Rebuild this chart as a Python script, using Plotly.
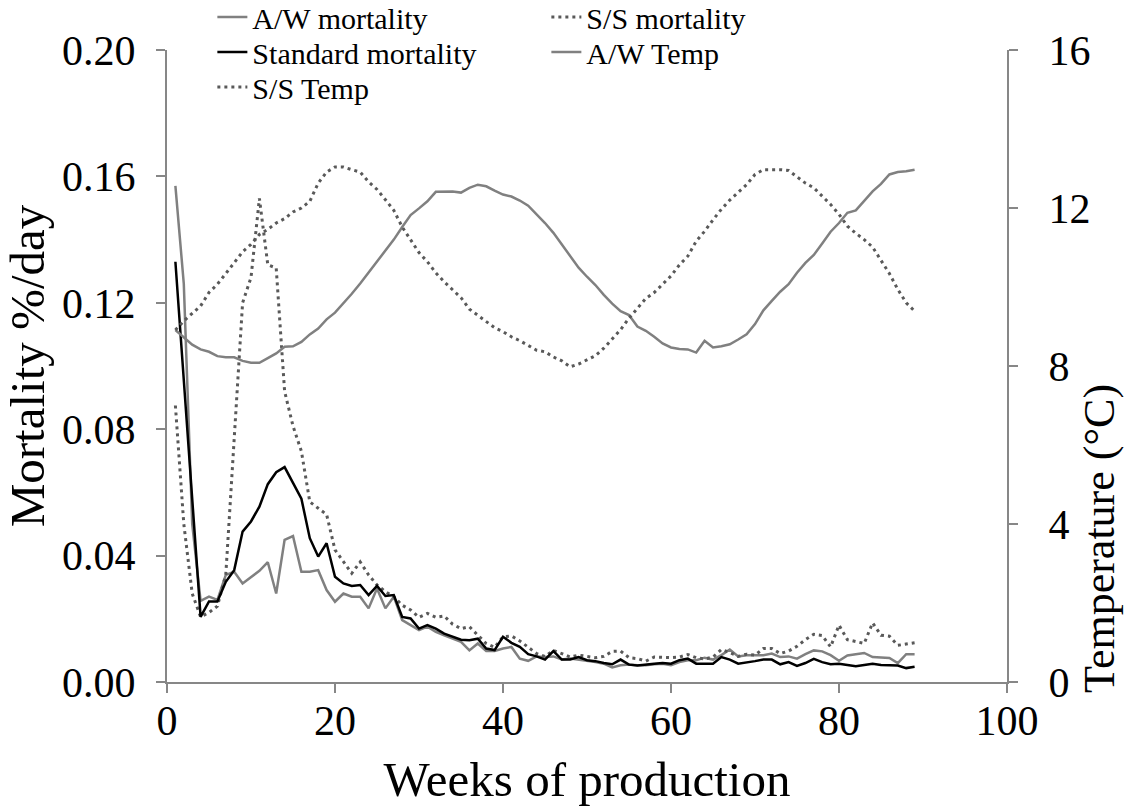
import plotly.graph_objects as go

# Weeks of production
weeks = list(range(1, 90))

# Mortality (%/day)
aw_mortality = [
    0.157, 0.126, 0.050, 0.0257, 0.027, 0.026, 0.0339, 0.0349, 0.0312, 0.0333,
    0.0352, 0.0379, 0.028, 0.045, 0.0462, 0.0349, 0.0349, 0.0354, 0.0291, 0.0254,
    0.028, 0.027, 0.027, 0.0233, 0.0296, 0.0233, 0.027, 0.0196, 0.018, 0.0164,
    0.0175, 0.0159, 0.0148, 0.0138, 0.0127, 0.010, 0.0122, 0.0098, 0.0098, 0.0106,
    0.0111, 0.0074, 0.0067, 0.0081, 0.0079, 0.0081, 0.0071, 0.0074, 0.0071, 0.0067,
    0.0063, 0.0058, 0.0046, 0.0053, 0.0055, 0.0053, 0.0053, 0.0056, 0.0058, 0.0053,
    0.0063, 0.0069, 0.0069, 0.0077, 0.0071, 0.0085, 0.0103, 0.0081, 0.0085, 0.0085,
    0.0085, 0.009, 0.0079, 0.0081, 0.0074, 0.0088, 0.010, 0.0097, 0.0085, 0.0067,
    0.0084, 0.0088, 0.0092, 0.0079, 0.0077, 0.0076, 0.006, 0.0088, 0.0088,
]

ss_mortality = [
    0.0875, 0.050, 0.028, 0.0206, 0.022, 0.024, 0.034, 0.076, 0.120, 0.128,
    0.153, 0.132, 0.131, 0.092, 0.081, 0.073, 0.057, 0.055, 0.053, 0.0418,
    0.038, 0.0344, 0.038, 0.0339, 0.0307, 0.0286, 0.027, 0.0243, 0.0228, 0.0205,
    0.0217, 0.0205, 0.0209, 0.0183, 0.0169, 0.0175, 0.0148, 0.0122, 0.011, 0.0143,
    0.0146, 0.013, 0.011, 0.009, 0.0081, 0.010, 0.009, 0.0079, 0.0085, 0.0081,
    0.0077, 0.0081, 0.0097, 0.0098, 0.0077, 0.0074, 0.0066, 0.0079, 0.0077, 0.0077,
    0.0079, 0.0087, 0.0077, 0.0073, 0.0079, 0.0103, 0.0093, 0.0081, 0.0088, 0.0085,
    0.0106, 0.0106, 0.009, 0.0098, 0.0113, 0.0134, 0.0151, 0.0147, 0.0111, 0.018,
    0.0134, 0.0127, 0.0122, 0.0187, 0.0148, 0.0145, 0.0116, 0.012, 0.0124,
]

standard_mortality = [
    0.133, 0.096, 0.058, 0.0206, 0.0255, 0.0255, 0.0317, 0.0354, 0.0476, 0.0508,
    0.0555, 0.0626, 0.0664, 0.068, 0.063, 0.058, 0.0455, 0.0397, 0.0439, 0.0333,
    0.0312, 0.0304, 0.0307, 0.0275, 0.0304, 0.0272, 0.0275, 0.0206, 0.0201, 0.0169,
    0.018, 0.0169, 0.0153, 0.0143, 0.0134, 0.0132, 0.0137, 0.0106, 0.0101, 0.0143,
    0.0124, 0.0111, 0.0088, 0.0081, 0.0071, 0.0098, 0.0071, 0.0071, 0.0079, 0.0069,
    0.0066, 0.006, 0.0056, 0.0071, 0.0055, 0.0052, 0.0056, 0.0058, 0.006, 0.0058,
    0.0069, 0.0074, 0.0058, 0.0058, 0.0058, 0.0079, 0.0071, 0.0058, 0.0061, 0.0066,
    0.0071, 0.0071, 0.0056, 0.0063, 0.0051, 0.006, 0.0073, 0.0063, 0.0056, 0.0058,
    0.0054, 0.005, 0.0054, 0.0058, 0.0054, 0.0052, 0.0052, 0.0044, 0.0048,
]

# Sea temperature (°C)
aw_temp = [
    8.91, 8.72, 8.54, 8.42, 8.36, 8.25, 8.22, 8.22, 8.13, 8.08,
    8.08, 8.20, 8.32, 8.49, 8.50, 8.61, 8.80, 8.95, 9.18, 9.35,
    9.58, 9.83, 10.09, 10.36, 10.66, 10.93, 11.20, 11.52, 11.82, 11.99,
    12.17, 12.41, 12.42, 12.42, 12.39, 12.51, 12.59, 12.55, 12.44, 12.34,
    12.29, 12.19, 12.06, 11.85, 11.62, 11.37, 11.08, 10.78, 10.49, 10.26,
    10.05, 9.80, 9.58, 9.39, 9.29, 9.00, 8.89, 8.74, 8.57, 8.47,
    8.43, 8.42, 8.34, 8.64, 8.47, 8.50, 8.55, 8.67, 8.80, 9.06,
    9.41, 9.65, 9.88, 10.07, 10.36, 10.61, 10.81, 11.10, 11.40, 11.62,
    11.88, 11.94, 12.17, 12.42, 12.61, 12.85, 12.91, 12.93, 12.97,
]

ss_temp = [
    8.91, 9.14, 9.33, 9.52, 9.86, 10.07, 10.34, 10.61, 10.89, 11.08,
    11.33, 11.46, 11.62, 11.73, 11.90, 12.00, 12.17, 12.63, 12.91, 13.04,
    13.04, 12.97, 12.91, 12.66, 12.47, 12.21, 11.94, 11.52, 11.18, 10.87,
    10.64, 10.36, 10.13, 9.94, 9.73, 9.44, 9.29, 9.14, 8.97, 8.87,
    8.74, 8.64, 8.51, 8.40, 8.36, 8.23, 8.13, 7.98, 8.05, 8.16,
    8.26, 8.45, 8.68, 8.92, 9.21, 9.46, 9.71, 9.86, 10.07, 10.28,
    10.56, 10.78, 11.16, 11.41, 11.70, 11.97, 12.20, 12.40, 12.59, 12.85,
    12.97, 12.97, 12.97, 12.95, 12.80, 12.63, 12.51, 12.31, 12.09, 11.84,
    11.54, 11.36, 11.20, 11.01, 10.66, 10.34, 9.94, 9.60, 9.39,
]

GREY = "#808080"
DARK = "#595959"
AXIS = "#878787"
DOTS = "3px,4px"
FONT = "Liberation Serif, Times New Roman, serif"

fig = go.Figure()
fig.add_trace(go.Scatter(x=weeks, y=aw_mortality, name="A/W mortality", mode="lines",
                         legend="legend", line=dict(color=GREY, width=2.5)))
fig.add_trace(go.Scatter(x=weeks, y=ss_mortality, name="S/S mortality", mode="lines",
                         legend="legend", line=dict(color=DARK, width=3, dash=DOTS)))
fig.add_trace(go.Scatter(x=weeks, y=standard_mortality, name="Standard mortality", mode="lines",
                         legend="legend2", line=dict(color="#000000", width=2.5)))
fig.add_trace(go.Scatter(x=weeks, y=aw_temp, name="A/W Temp", mode="lines", yaxis="y2",
                         legend="legend2", line=dict(color=GREY, width=2.5)))
fig.add_trace(go.Scatter(x=weeks, y=ss_temp, name="S/S Temp", mode="lines", yaxis="y2",
                         legend="legend3", line=dict(color=DARK, width=3, dash=DOTS)))

axis_common = dict(
    showgrid=False, zeroline=False, showline=True, linecolor=AXIS, linewidth=2,
    ticks="outside", ticklen=9, tickwidth=2, tickcolor=AXIS,
    tickfont=dict(family=FONT, size=42, color="#000000"),
)


def legend_row(y):
    # one row of the two-column key above the plot
    return dict(
        orientation="h", x=0.054, y=y, xanchor="left", yanchor="middle",
        entrywidth=289, entrywidthmode="pixels", itemwidth=30,
        bgcolor="rgba(0,0,0,0)", font=dict(family=FONT, size=30, color="#000000"),
    )


fig.update_layout(
    width=1136, height=812,
    margin=dict(l=167, r=129, t=50, b=130, autoexpand=False),
    paper_bgcolor="white", plot_bgcolor="white",
    font=dict(family=FONT, color="#000000"),
    showlegend=True,
    legend=legend_row(1.0522),
    legend2=legend_row(0.9968),
    legend3=legend_row(0.9415),
    xaxis=dict(
        range=[0, 100], dtick=20, tick0=0, ticklabelstandoff=-8,
        title=dict(text="Weeks of production", font=dict(family=FONT, size=49), standoff=18),
        **axis_common,
    ),
    yaxis=dict(
        range=[0, 0.2], dtick=0.04, tick0=0, tickformat=".2f", ticklabelstandoff=12,
        title=dict(text="Mortality %/day", font=dict(family=FONT, size=49), standoff=2),
        **axis_common,
    ),
    yaxis2=dict(
        range=[0, 16], dtick=4, tick0=0, overlaying="y", side="right",
        ticklabelstandoff=22,
        **axis_common,
    ),
    annotations=[
        dict(
            text="Temperature (°C)", textangle=-90, showarrow=False,
            xref="paper", yref="paper", x=1.1107, y=0.228,
            xanchor="center", yanchor="middle",
            font=dict(family=FONT, size=44, color="#000000"),
        )
    ],
)

fig.write_html("out.html")
